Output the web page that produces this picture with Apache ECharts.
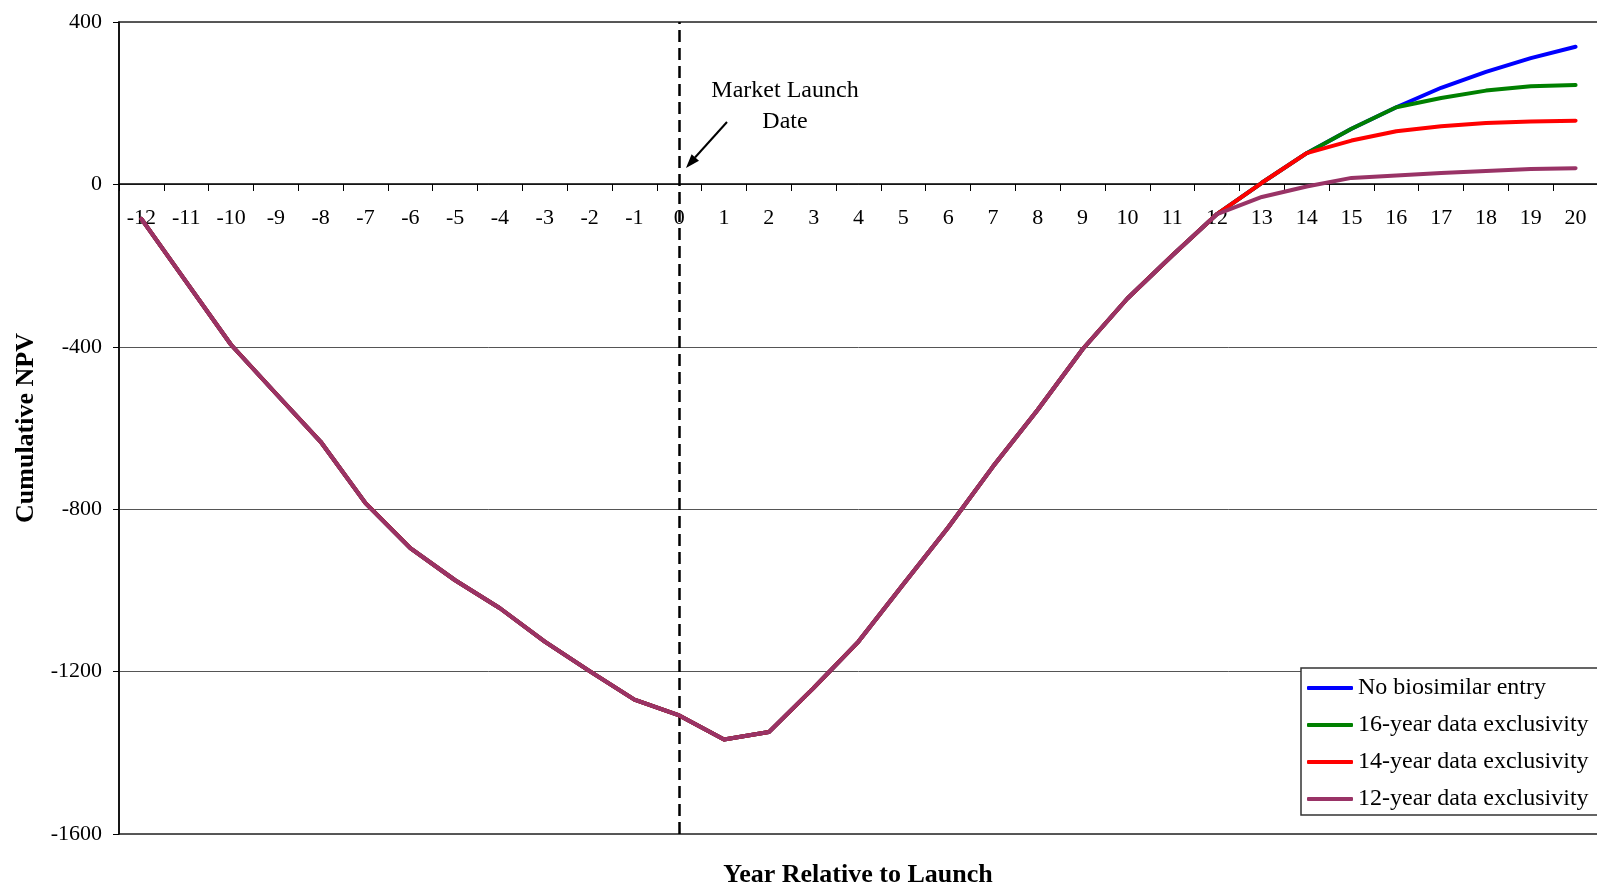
<!DOCTYPE html>
<html><head><meta charset="utf-8">
<script src="https://cdn.jsdelivr.net/npm/echarts@6/dist/echarts.min.js"></script>
<style>html,body{margin:0;padding:0;background:#fff}#c{width:1597px;height:887px}</style>
</head><body><div id="c"></div>
<script>
// Categories: year relative to launch
const years = ['-12','-11','-10','-9','-8','-7','-6','-5','-4','-3','-2','-1','0','1','2','3','4','5','6','7','8','9','10','11','12','13','14','15','16','17','18','19','20'];
// Shared cumulative NPV path, years -12 .. 12
const sharedPath = [-85, -240, -395, -515, -634, -785, -896, -975, -1044, -1126, -1199, -1269, -1308, -1367, -1349, -1240, -1126, -985, -845, -695, -555, -406, -281, -175, -73];
// Scenario tails, years 13 .. 20
const noEntryTail = [4, 77, 137, 190, 238, 277, 311, 339];
const excl16Tail  = [4, 77, 137, 190, 213, 231, 242, 245];
const excl14Tail  = [4, 77, 108, 131, 143, 151, 155, 157];
const excl12Tail  = [-31, -5, 16, 22, 28, 33, 38, 40];
const seriesNames = ['No biosimilar entry', '16-year data exclusivity', '14-year data exclusivity', '12-year data exclusivity'];
const seriesColors = ['#0000FF', '#008000', '#FF0000', '#993366'];
const yMin = -1600, yMax = 400, yStep = 400;
const launchYear = '0';

const tails = [noEntryTail, excl16Tail, excl14Tail, excl12Tail];
const FONT = "'Liberation Serif', 'Times New Roman', serif";

const chart = echarts.init(document.getElementById('c'), null, {renderer: 'canvas'});
const series = seriesNames.map((name, i) => {
  const s = {
    name: name,
    type: 'line',
    data: sharedPath.concat(tails[i]),
    symbol: 'none',
    color: seriesColors[i],
    lineStyle: {color: seriesColors[i], width: 4, cap: 'round', join: 'round'},
    z: 3 + i,
    animation: false
  };
  if (i === 0) {
    s.markLine = {
      silent: true,
      symbol: 'none',
      label: {show: false},
      lineStyle: {type: [12, 6], color: '#000', width: 2.5},
      data: [{xAxis: launchYear}],
      animation: false
    };
  }
  return s;
});

chart.setOption({
  backgroundColor: '#fff',
  animation: false,
  textStyle: {fontFamily: FONT, color: '#000'},
  grid: {left: 119, top: 22, right: -1, bottom: 53, show: true, borderColor: '#222', borderWidth: 1.5, containLabel: false, outerBoundsMode: 'none'},
  xAxis: {
    type: 'category',
    data: years,
    boundaryGap: true,
    position: 'bottom',
    offset: -650,
    axisLine: {onZero: false, lineStyle: {color: '#000', width: 1.5}},
    axisTick: {show: true, length: 7, alignWithLabel: false, interval: 0, lineStyle: {color: '#000', width: 1}},
    axisLabel: {interval: 0, margin: 23, fontSize: 22, color: '#000', fontFamily: FONT},
    splitLine: {show: false}
  },
  yAxis: {
    type: 'value',
    min: yMin, max: yMax, interval: yStep,
    name: 'Cumulative NPV',
    nameLocation: 'middle',
    nameGap: 78,
    nameTextStyle: {fontSize: 26, fontWeight: 'bold', color: '#000', fontFamily: FONT},
    axisLine: {show: true, lineStyle: {color: '#000', width: 1.5}},
    axisTick: {show: true, length: 6, lineStyle: {color: '#000', width: 1}},
    axisLabel: {margin: 17, fontSize: 22, color: '#000', fontFamily: FONT, formatter: v => String(v)},
    splitLine: {show: true, lineStyle: {color: '#555', width: 1}}
  },
  legend: {
    orient: 'vertical',
    left: 1301, top: 668,
    padding: [7, 10, 3, 6],
    itemGap: 11,
    itemWidth: 46, itemHeight: 4,
    icon: 'roundRect',
    borderColor: '#333', borderWidth: 1.5,
    backgroundColor: '#fff',
    data: seriesNames,
    textStyle: {fontSize: 24, lineHeight: 26, color: '#000', fontFamily: FONT},
    selectedMode: false
  },
  graphic: [
    {type: 'text', x: 785, y: 75, style: {text: 'Market Launch\nDate', fontSize: 24, lineHeight: 31, fontFamily: FONT, fill: '#000', textAlign: 'center', textVerticalAlign: 'top'}, z: 10},
    {type: 'line', shape: {x1: 727, y1: 122, x2: 695, y2: 157.5}, style: {stroke: '#000', lineWidth: 2}, z: 10},
    {type: 'polygon', shape: {points: [[686, 168], [699, 160.8], [691.6, 154.2]]}, style: {fill: '#000'}, z: 10},
    {type: 'text', x: 858, y: 875, style: {text: 'Year Relative to Launch', fontSize: 26, fontWeight: 'bold', fontFamily: FONT, fill: '#000', textAlign: 'center', textVerticalAlign: 'middle'}, z: 10}
  ],
  series: series
});
</script>
</body></html>
